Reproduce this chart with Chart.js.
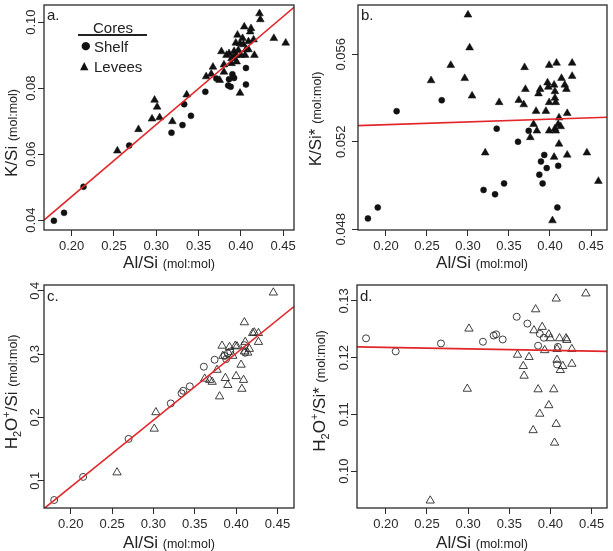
<!DOCTYPE html>
<html>
<head>
<meta charset="utf-8">
<script src="https://cdn.jsdelivr.net/npm/chart.js@4.4.0/dist/chart.umd.min.js"></script>
<style>
  body { margin: 0; background: #fff; }
  #wrap { position: relative; width: 613px; height: 551px; overflow: hidden; color: #222;
          font-family: "Liberation Sans", Arial, sans-serif; }
  canvas { position: absolute; }
  .t { position: absolute; white-space: nowrap; font-size: 17px; line-height: 1; }
  .t .u { font-size: 12.5px; }
  .t sub, .t sup { font-size: 11px; line-height: 0; }
  .yt { transform: translate(-50%, -50%) rotate(-90deg); }
  .xt { transform: translate(-50%, -50%); }
  .nar { position: absolute; font-family: "Liberation Sans Narrow", "Liberation Sans", Arial, sans-serif;
         font-size: 15px; line-height: 1; white-space: nowrap; }
  .sym { position: absolute; line-height: 1; font-family: "DejaVu Sans", sans-serif; color: #111; }
</style>
</head>
<body>
<div id="wrap">
  <canvas id="pa" width="306" height="262" style="left:0;top:0"></canvas>
  <canvas id="pb" width="307" height="262" style="left:306px;top:0"></canvas>
  <canvas id="pc" width="306" height="276" style="left:0;top:275px"></canvas>
  <canvas id="pd" width="307" height="276" style="left:306px;top:275px"></canvas>

  <div class="t yt" style="left:11px;top:133px">K/Si <span class="u">(mol:mol)</span></div>
  <div class="t yt" style="left:315px;top:119px">K/Si* <span class="u">(mol:mol)</span></div>
  <div class="t yt" style="left:11px;top:392px">H<sub>2</sub>O<sup>+</sup>/Si <span class="u">(mol:mol)</span></div>
  <div class="t yt" style="left:319px;top:391px">H<sub>2</sub>O<sup>+</sup>/Si* <span class="u">(mol:mol)</span></div>

  <div class="t xt" style="left:169px;top:262px">Al/Si <span class="u">(mol:mol)</span></div>
  <div class="t xt" style="left:482px;top:262px">Al/Si <span class="u">(mol:mol)</span></div>
  <div class="t xt" style="left:169px;top:542px">Al/Si <span class="u">(mol:mol)</span></div>
  <div class="t xt" style="left:482px;top:542px">Al/Si <span class="u">(mol:mol)</span></div>

  <div class="nar" style="left:47px;top:7px">a.</div>
  <div class="nar" style="left:361px;top:7px">b.</div>
  <div class="nar" style="left:47px;top:288px">c.</div>
  <div class="nar" style="left:360px;top:288px">d.</div>

  <!-- legend of panel a -->
  <div class="nar" style="left:93px;top:20px">Cores</div>
  <div style="position:absolute;left:78px;top:34px;width:69px;height:1.5px;background:#222"></div>
  <div class="sym" style="left:81px;top:40px;font-size:11px">&#9679;</div>
  <div class="nar" style="left:94px;top:39px">Shelf</div>
  <div class="sym" style="left:80px;top:60px;font-size:11px">&#9650;</div>
  <div class="nar" style="left:94px;top:59px">Levees</div>
</div>

<script>
// tick positions
const xTicks = [0.20, 0.25, 0.30, 0.35, 0.40, 0.45];
const aYTicks = [0.04, 0.06, 0.08, 0.10];
const bYTicks = [0.048, 0.052, 0.056];
const cYTicks = [0.1, 0.2, 0.3, 0.4];
const dYTicks = [0.10, 0.11, 0.12, 0.13];

// a. K/Si vs Al/Si
const aShelfX = [0.179, 0.191, 0.214, 0.268, 0.318, 0.331, 0.333, 0.341, 0.358, 0.371, 0.385, 0.386, 0.388, 0.390, 0.392, 0.406, 0.406];
const aShelfY = [0.0398, 0.0422, 0.0501, 0.0626, 0.0665, 0.0688, 0.0751, 0.0716, 0.0789, 0.0829, 0.0808, 0.0827, 0.0804, 0.0842, 0.0831, 0.0861, 0.0811];
const aLeveeX = [0.254, 0.279, 0.295, 0.298, 0.301, 0.304, 0.319, 0.336, 0.359, 0.365, 0.367, 0.375, 0.377, 0.380, 0.380, 0.383,
                 0.386, 0.389, 0.391, 0.392, 0.394, 0.394, 0.395, 0.397, 0.396, 0.399, 0.400, 0.402, 0.403, 0.404, 0.405, 0.406,
                 0.409, 0.409, 0.411, 0.399, 0.412, 0.415, 0.416, 0.422, 0.423, 0.439, 0.453, 0.389];
const aLeveeY = [0.0610, 0.0675, 0.0707, 0.0764, 0.0743, 0.0711, 0.0699, 0.0780, 0.0835, 0.0843, 0.0864, 0.0824, 0.0911, 0.0849, 0.0871, 0.0900,
                 0.0905, 0.0875, 0.0893, 0.0912, 0.0900, 0.0937, 0.0880, 0.0915, 0.0961, 0.0935, 0.0900, 0.0951, 0.0932, 0.0986, 0.0900, 0.0917,
                 0.0917, 0.0941, 0.0971, 0.0785, 0.0981, 0.0947, 0.0900, 0.1026, 0.1008, 0.0951, 0.0937, 0.0890];
const aFitX = [0.1673, 0.4628];
const aFitY = [0.0400, 0.1045];

// b. K/Si* vs Al/Si
const bShelfX = [0.178, 0.190, 0.213, 0.268, 0.319, 0.333, 0.335, 0.344, 0.361, 0.374, 0.387, 0.389, 0.391, 0.393, 0.396, 0.410, 0.409];
const bShelfY = [0.0485, 0.0490, 0.0534, 0.0539, 0.0498, 0.0496, 0.0526, 0.0501, 0.0520, 0.0525, 0.0505, 0.0511, 0.0501, 0.0514, 0.0508, 0.0509, 0.0490];
const bLeveeX = [0.300, 0.302, 0.279, 0.255, 0.296, 0.305, 0.338, 0.321, 0.362, 0.368, 0.370, 0.369, 0.376, 0.384, 0.383, 0.386,
                 0.388, 0.380, 0.395, 0.397, 0.398, 0.399, 0.399, 0.399, 0.405, 0.406, 0.406, 0.407, 0.408, 0.406, 0.407, 0.405,
                 0.411, 0.410, 0.413, 0.411, 0.403, 0.414, 0.418, 0.420, 0.421, 0.421, 0.427, 0.427, 0.445, 0.459];
const bLeveeY = [0.0578, 0.0563, 0.0555, 0.0548, 0.0549, 0.0541, 0.0538, 0.0515, 0.0539, 0.0537, 0.0544, 0.0554, 0.0522, 0.0525, 0.0534, 0.0542,
                 0.0544, 0.0528, 0.0534, 0.0547, 0.0545, 0.0538, 0.0525, 0.0555, 0.0546, 0.0543, 0.0540, 0.0538, 0.0556, 0.0526, 0.0525, 0.0513,
                 0.0531, 0.0528, 0.0527, 0.0519, 0.0484, 0.0549, 0.0546, 0.0544, 0.0533, 0.0514, 0.0556, 0.0550, 0.0515, 0.0502];
const bFitX = [0.1659, 0.4695];
const bFitY = [0.05274, 0.05312];

// c. H2O+/Si vs Al/Si
const cShelfX = [0.180, 0.215, 0.270, 0.321, 0.334, 0.336, 0.344, 0.361, 0.374, 0.388, 0.390, 0.393, 0.410, 0.411, 0.386];
const cShelfY = [0.0695, 0.106, 0.166, 0.222, 0.238, 0.242, 0.249, 0.280, 0.291, 0.292, 0.301, 0.304, 0.314, 0.302, 0.297];
const cLeveeX = [0.256, 0.301, 0.303, 0.362, 0.368, 0.371, 0.377, 0.380, 0.383, 0.384, 0.387, 0.390, 0.392, 0.396, 0.399,
                 0.400, 0.406, 0.407, 0.409, 0.410, 0.410, 0.411, 0.414, 0.416, 0.420, 0.422, 0.427, 0.427, 0.445, 0.401];
const cLeveeY = [0.113, 0.182, 0.208, 0.261, 0.259, 0.256, 0.275, 0.233, 0.313, 0.297, 0.262, 0.251, 0.311, 0.297, 0.313,
                 0.265, 0.283, 0.245, 0.259, 0.350, 0.304, 0.319, 0.302, 0.308, 0.333, 0.334, 0.319, 0.333, 0.397, 0.312];
const cFitX = [0.1677, 0.470];
const cFitY = [0.056, 0.375];

// d. H2O+/Si* vs Al/Si
const dShelfX = [0.176, 0.212, 0.267, 0.318, 0.331, 0.334, 0.342, 0.359, 0.372, 0.385, 0.387, 0.392, 0.408, 0.409];
const dShelfY = [0.1234, 0.1211, 0.1225, 0.1228, 0.1239, 0.1241, 0.1232, 0.1272, 0.1260, 0.1221, 0.1242, 0.1235, 0.1188, 0.1219];
const dLeveeX = [0.254, 0.299, 0.301, 0.360, 0.367, 0.368, 0.374, 0.379, 0.382, 0.385, 0.387, 0.380, 0.390, 0.393, 0.398,
                 0.398, 0.400, 0.404, 0.405, 0.407, 0.407, 0.408, 0.408, 0.411, 0.412, 0.415, 0.419, 0.420, 0.426, 0.426, 0.443];
const dLeveeY = [0.0948, 0.1145, 0.1251, 0.1205, 0.1185, 0.1168, 0.1201, 0.1072, 0.1285, 0.1144, 0.1101, 0.1248, 0.1254, 0.1213, 0.1116,
                 0.1241, 0.1234, 0.1144, 0.1050, 0.1083, 0.1304, 0.1215, 0.1196, 0.1234, 0.1178, 0.1185, 0.1234, 0.1231, 0.1215, 0.1189, 0.1313];
const dFitX = [0.165, 0.4687];
const dFitY = [0.1219, 0.1211];

const pts = (xs, ys) => xs.map((x, i) => ({ x: x, y: ys[i] }));
const INK = '#2a2a2a';
const RED = '#e3262a';
const NARROW = '"Liberation Sans Narrow", "Liberation Sans", Arial, sans-serif';

// frame round the plot area
const boxPlugin = {
    id: 'box',
    afterDraw(chart) {
        const { ctx, chartArea: a } = chart;
        ctx.save();
        ctx.strokeStyle = INK;
        ctx.lineWidth = 1.3;
        ctx.strokeRect(a.left, a.top, a.right - a.left, a.bottom - a.top);
        ctx.restore();
    }
};

function makePanel(id, p) {
    const filled = p.filled;
    const datasets = [
        {
            data: pts(p.fitX, p.fitY), showLine: true, borderColor: RED, borderWidth: 1.6,
            pointRadius: 0, fill: false
        },
        {
            data: pts(p.shelfX, p.shelfY), pointStyle: 'circle',
            pointRadius: filled ? 3.0 : 3.5,
            pointBackgroundColor: filled ? '#111' : 'rgba(0,0,0,0)',
            pointBorderColor: filled ? '#111' : INK, pointBorderWidth: filled ? 0.5 : 0.9
        },
        {
            data: pts(p.leveeX, p.leveeY), pointStyle: 'triangle',
            pointRadius: filled ? 4.5 : 4.8,
            pointBackgroundColor: filled ? '#111' : 'rgba(0,0,0,0)',
            pointBorderColor: filled ? '#111' : INK, pointBorderWidth: filled ? 0.5 : 0.9
        }
    ];
    const tickFont = { family: NARROW, size: 13 };
    new Chart(document.getElementById(id), {
        type: 'scatter',
        data: { datasets: datasets },
        plugins: [boxPlugin],
        options: {
            responsive: false,
            animation: false,
            events: [],
            layout: { padding: { top: p.padTop, right: p.padRight, left: 0, bottom: 0 } },
            plugins: { legend: { display: false }, tooltip: { enabled: false } },
            scales: {
                x: {
                    type: 'linear', min: p.xMin, max: p.xMax,
                    afterBuildTicks: s => { s.ticks = xTicks.map(v => ({ value: v })); },
                    afterFit: s => { s.height = p.xAxisH; },
                    ticks: { color: INK, font: tickFont, padding: 3, maxRotation: 0,
                             callback: v => v.toFixed(2) },
                    grid: { drawOnChartArea: false, drawTicks: true, tickLength: 6, color: INK },
                    border: { display: false }
                },
                y: {
                    type: 'linear', min: p.yMin, max: p.yMax,
                    afterBuildTicks: s => { s.ticks = p.yTicks.map(v => ({ value: v })); },
                    afterFit: s => { s.width = p.yAxisW; },
                    ticks: { color: INK, font: tickFont, padding: -6, minRotation: 90, maxRotation: 90,
                             crossAlign: 'center', callback: v => v.toFixed(p.yDigits) },
                    grid: { drawOnChartArea: false, drawTicks: true, tickLength: 6, color: INK },
                    border: { display: false }
                }
            }
        }
    });
}

// a: canvas (0,0) 306x262, plot 44..294 x 5..230
makePanel('pa', {
    filled: true, shelfX: aShelfX, shelfY: aShelfY, leveeX: aLeveeX, leveeY: aLeveeY,
    fitX: aFitX, fitY: aFitY, yTicks: aYTicks, yDigits: 2,
    xMin: 0.1673, xMax: 0.4628, yMin: 0.0370, yMax: 0.1052,
    padTop: 5, padRight: 12, yAxisW: 44, xAxisH: 32
});
// b: canvas (306,0) 307x262, plot 358..607 x 5..230
makePanel('pb', {
    filled: true, shelfX: bShelfX, shelfY: bShelfY, leveeX: bLeveeX, leveeY: bLeveeY,
    fitX: bFitX, fitY: bFitY, yTicks: bYTicks, yDigits: 3,
    xMin: 0.1659, xMax: 0.4695, yMin: 0.04797, yMax: 0.05825,
    padTop: 5, padRight: 6, yAxisW: 52, xAxisH: 32
});
// c: canvas (0,275) 306x276, plot 44..294 x 285..508
makePanel('pc', {
    filled: false, shelfX: cShelfX, shelfY: cShelfY, leveeX: cLeveeX, leveeY: cLeveeY,
    fitX: cFitX, fitY: cFitY, yTicks: cYTicks, yDigits: 1,
    xMin: 0.1677, xMax: 0.470, yMin: 0.0569, yMax: 0.409,
    padTop: 10, padRight: 12, yAxisW: 44, xAxisH: 43
});
// d: canvas (306,275) 307x276, plot 357..607 x 285..508
makePanel('pd', {
    filled: false, shelfX: dShelfX, shelfY: dShelfY, leveeX: dLeveeX, leveeY: dLeveeY,
    fitX: dFitX, fitY: dFitY, yTicks: dYTicks, yDigits: 2,
    xMin: 0.165, xMax: 0.4687, yMin: 0.0935, yMax: 0.1328,
    padTop: 10, padRight: 6, yAxisW: 51, xAxisH: 43
});
</script>
</body>
</html>
